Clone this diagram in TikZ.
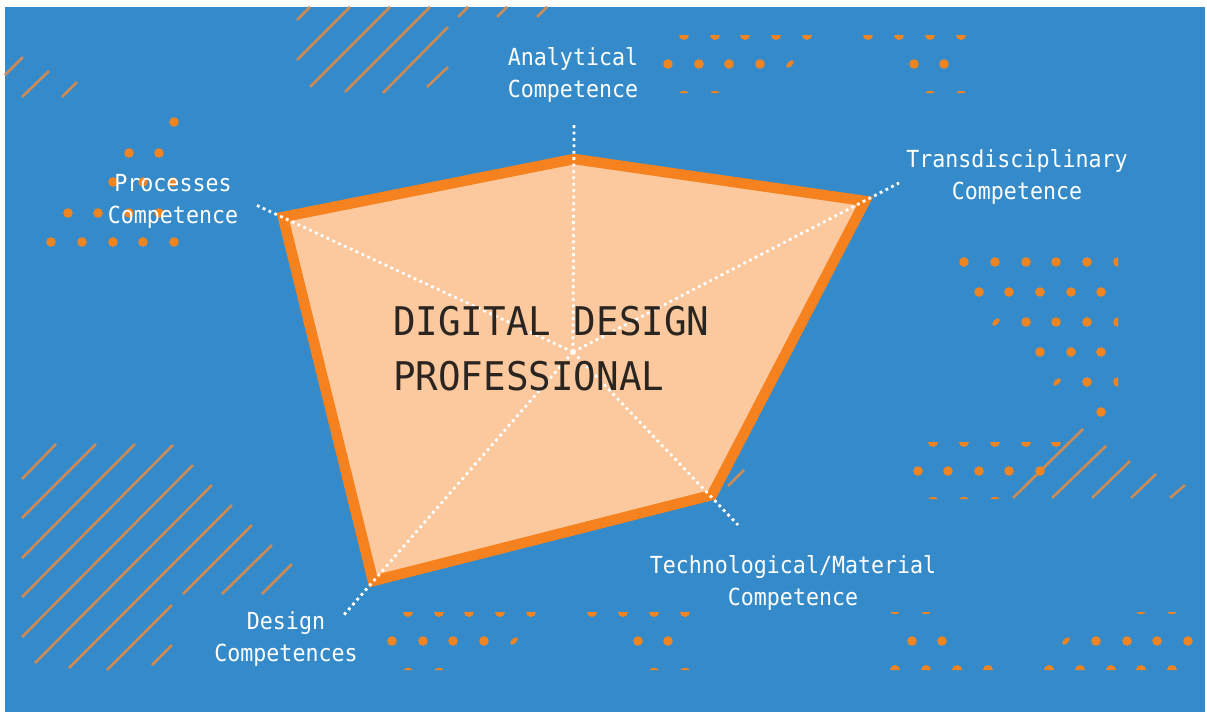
\documentclass[tikz,border=0pt]{standalone}
\usepackage{fontspec}
\usepackage{tikz}

\newfontfamily\labelfont[FakeStretch=0.92]{DejaVu Sans Mono}
\newfontfamily\titlefont[FakeStretch=0.95]{DejaVu Sans Mono}

\definecolor{bgblue}{HTML}{358BC9}
\definecolor{edgeorange}{HTML}{F5821F}
\definecolor{peach}{HTML}{FBC99D}
\definecolor{hatchorange}{HTML}{CC8A55}
\definecolor{dotorange}{HTML}{EE8422}
\definecolor{titleink}{HTML}{2B2521}

\tikzset{
	hatch/.style={draw=hatchorange, line width=2.6pt},
	dot/.style={fill=dotorange},
	spoke/.style={draw=white, line width=2.8pt, dash pattern=on 2.8pt off 3.6pt},
	comp/.style={text=white, font=\labelfont\fontsize{23.5}{32}\selectfont, align=center, inner sep=0pt},
	title/.style={text=titleink, font=\titlefont\fontsize{39.5}{55}\selectfont, inner sep=0pt, anchor=base west},
}

% one band of dots: half dots, full dots, slivers
\newcommand{\dotband}{%
	\foreach \x in {0,31,61,92,123,184,215,246,277}
		\fill[dot] (\x,-1) ++(5,0) arc[start angle=0, end angle=180, radius=5] -- cycle;
	\foreach \x in {-16,15,45,76,230,260}
		\fill[dot] (\x,28) circle (4.8);
	\fill[dot, rotate around={45:(106,28)}] (106,28) ellipse [x radius=4.8, y radius=2.4];
	\foreach \x in {0,31,246,277}
		\fill[dot] (\x,57) ++(4.5,0) arc[start angle=0, end angle=-180, x radius=4.5, y radius=2.2] -- cycle;
}

\begin{document}
\begin{tikzpicture}[x=1pt, y=-1pt]
	\useasboundingbox (0,0) rectangle (1207,715);
	\fill[white] (0,0) rectangle (1207,715);
	\fill[bgblue] (5,7) rectangle (1205,712);

	% hatching
	\foreach \a/\b/\c/\d in {5/75/23/57, 22/97/49/71, 62/97/77/82,
			297/20/310/7, 297/60/350/7, 310/87/390/7, 345/92/430/7, 383/93/448/27, 427/87/448/67,
			458/17/468/7, 497/17/507/7, 537/17/547/7,
			22/479/56/444, 22/518/96/444, 22/558/135/444, 22/597/173/445, 22/637/193/465,
			35/663/212/485, 69/668/232/505, 107/670/172/605, 152/665/172/645,
			183/594/252/525, 222/594/272/545, 262/594/292/564,
			1013/498/1083/429, 1052/498/1106/446, 1092/498/1130/461, 1131/498/1156/474, 1170/498/1185/485,
			728/486/744/470}
		\draw[hatch] (\a,\b) -- (\c,\d);

	% dots
	\foreach \x/\y in {174/122, 129/153, 159/153, 113/182, 143/182, 173/182,
			68/213, 98/213, 129/213, 159/213, 51/242, 82/242, 113/242, 143/242, 174/242,
			964/262, 995/262, 1026/262, 1056/262, 1087/262,
			979/292, 1009/292, 1040/292, 1071/292, 1101/292,
			1026/322, 1056/322, 1087/322, 1040/352, 1071/352, 1101/352,
			1087/382, 1101/412,
			918/471, 948/471, 979/471, 1009/471, 1040/471}
		\fill[dot] (\x,\y) circle (4.8);
	\foreach \y in {262,322,382}
		\fill[dot] (1118,\y) ++(0,4.8) arc[start angle=90, end angle=270, radius=4.8] -- cycle;
	\foreach \x/\y in {996/322, 1057/382}
		\fill[dot, rotate around={45:(\x,\y)}] (\x,\y) ellipse [x radius=4.8, y radius=2.4];
	\foreach \x in {933,964,995,1026,1056}
		\fill[dot] (\x,442) ++(5,0) arc[start angle=0, end angle=180, radius=5] -- cycle;
	\foreach \x in {933,964,995}
		\fill[dot] (\x,499) ++(4.5,0) arc[start angle=0, end angle=-180, x radius=4.5, y radius=2.2] -- cycle;

	\begin{scope}[shift={(684,36)}]
		\dotband
	\end{scope}
	\begin{scope}[shift={(408,613)}]
		\dotband
	\end{scope}
	\begin{scope}[shift={(1172,669)}, rotate=180]
		\dotband
	\end{scope}

	% radar shape
	\coordinate (c) at (573,352);
	\coordinate (analyt) at (574,159);
	\coordinate (transd) at (865,201);
	\coordinate (techno) at (712,495);
	\coordinate (design) at (373,581);
	\coordinate (proces) at (283,217);

	\coordinate (analyt end) at (574,125);
	\coordinate (transd end) at (899,183);
	\coordinate (techno end) at (738,525);
	\coordinate (design end) at (343,616);
	\coordinate (proces end) at (256,205);

	\draw[draw=edgeorange, fill=peach, line width=10.5pt, line join=miter]
		(analyt) -- (transd) -- (techno) -- (design) -- (proces) -- cycle;

	\draw[spoke] (c) -- (analyt end);
	\draw[spoke] (c) -- (transd end);
	\draw[spoke] (c) -- (techno end);
	\draw[spoke] (c) -- (design end);
	\draw[spoke] (c) -- (proces end);

	\node[title] (title1) at (393,335) {DIGITAL DESIGN};
	\node[title] (title2) at (393,390) {PROFESSIONAL};

	\node[comp] (analytical) at (573,75) {Analytical\\Competence};
	\node[comp] (transdisc) at (1017,177) {Transdisciplinary\\Competence};
	\node[comp] (technological) at (793,583) {Technological/Material\\Competence};
	\node[comp] (designcomp) at (286,639) {Design\\Competences};
	\node[comp] (processes) at (173,201) {Processes\\Competence};
\end{tikzpicture}
\end{document}
